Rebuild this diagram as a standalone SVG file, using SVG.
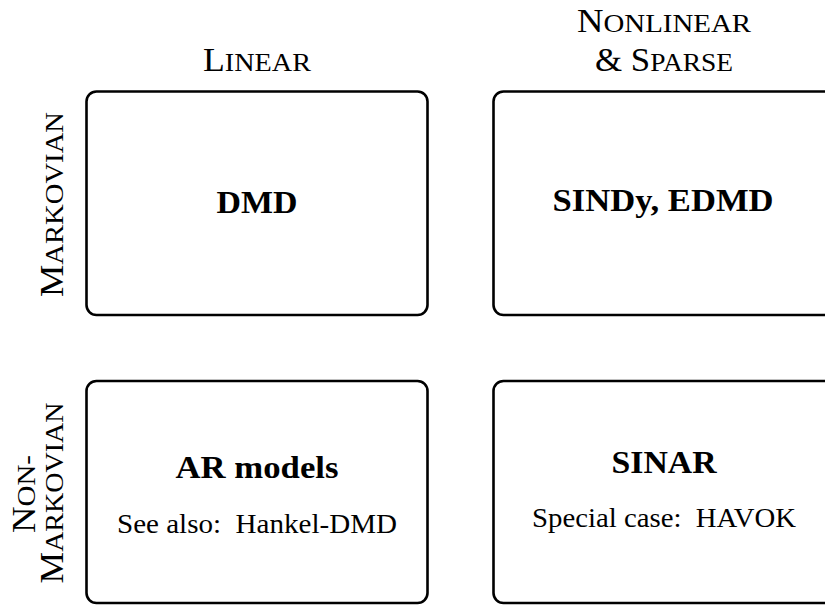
<svg xmlns="http://www.w3.org/2000/svg" width="825" height="605" viewBox="0 0 825 605">
  <style>
    .box { fill: #ffffff; stroke: #000000; stroke-width: 2.6; }
    .t { font-family: "Liberation Serif", "Times New Roman", serif; fill: #000000; }
    .title { font-weight: bold; font-size: 32px; text-anchor: middle; }
    .sub { font-size: 27px; text-anchor: middle; }
    .hdr { font-size: 33px; text-anchor: middle; }
    .sc { font-size: 26px; }
  </style>
  <rect width="825" height="605" fill="#ffffff"/>

  <g id="col-headers">
    <text class="t hdr" x="257" y="71" textLength="108" lengthAdjust="spacingAndGlyphs">L<tspan class="sc">INEAR</tspan></text>
    <text class="t hdr" x="664" y="32" textLength="174" lengthAdjust="spacingAndGlyphs">N<tspan class="sc">ONLINEAR</tspan></text>
    <text class="t hdr" x="664" y="71" textLength="138" lengthAdjust="spacingAndGlyphs">&amp; S<tspan class="sc">PARSE</tspan></text>
  </g>

  <g id="row-headers">
    <text class="t hdr" transform="translate(63,204.5) rotate(-90)" x="0" y="0" textLength="185" lengthAdjust="spacingAndGlyphs">M<tspan class="sc">ARKOVIAN</tspan></text>
    <text class="t hdr" transform="translate(35,494) rotate(-90)" x="0" y="0" textLength="78" lengthAdjust="spacingAndGlyphs">N<tspan class="sc">ON-</tspan></text>
    <text class="t hdr" transform="translate(63,493) rotate(-90)" x="0" y="0" textLength="181" lengthAdjust="spacingAndGlyphs">M<tspan class="sc">ARKOVIAN</tspan></text>
  </g>

  <g id="node-dmd">
    <rect class="box" x="86.5" y="91.5" width="341" height="223.5" rx="10"/>
    <text class="t title" x="257" y="213" textLength="81" lengthAdjust="spacingAndGlyphs">DMD</text>
  </g>

  <g id="node-sindy">
    <rect class="box" x="493.5" y="91.5" width="341" height="223.5" rx="10"/>
    <text class="t title" x="663" y="211" textLength="221" lengthAdjust="spacingAndGlyphs">SINDy, EDMD</text>
  </g>

  <g id="node-ar">
    <rect class="box" x="86.5" y="381" width="341" height="222" rx="10"/>
    <text class="t title" x="257" y="478" textLength="163" lengthAdjust="spacingAndGlyphs">AR models</text>
    <text class="t sub" x="257" y="533" textLength="280" lengthAdjust="spacingAndGlyphs">See also:&#160; Hankel-DMD</text>
  </g>

  <g id="node-sinar">
    <rect class="box" x="493.5" y="381" width="341" height="222" rx="10"/>
    <text class="t title" x="664" y="473" textLength="105" lengthAdjust="spacingAndGlyphs">SINAR</text>
    <text class="t sub" x="664" y="527" textLength="264" lengthAdjust="spacingAndGlyphs">Special case:&#160; HAVOK</text>
  </g>

  <g id="connectors"></g>
</svg>
